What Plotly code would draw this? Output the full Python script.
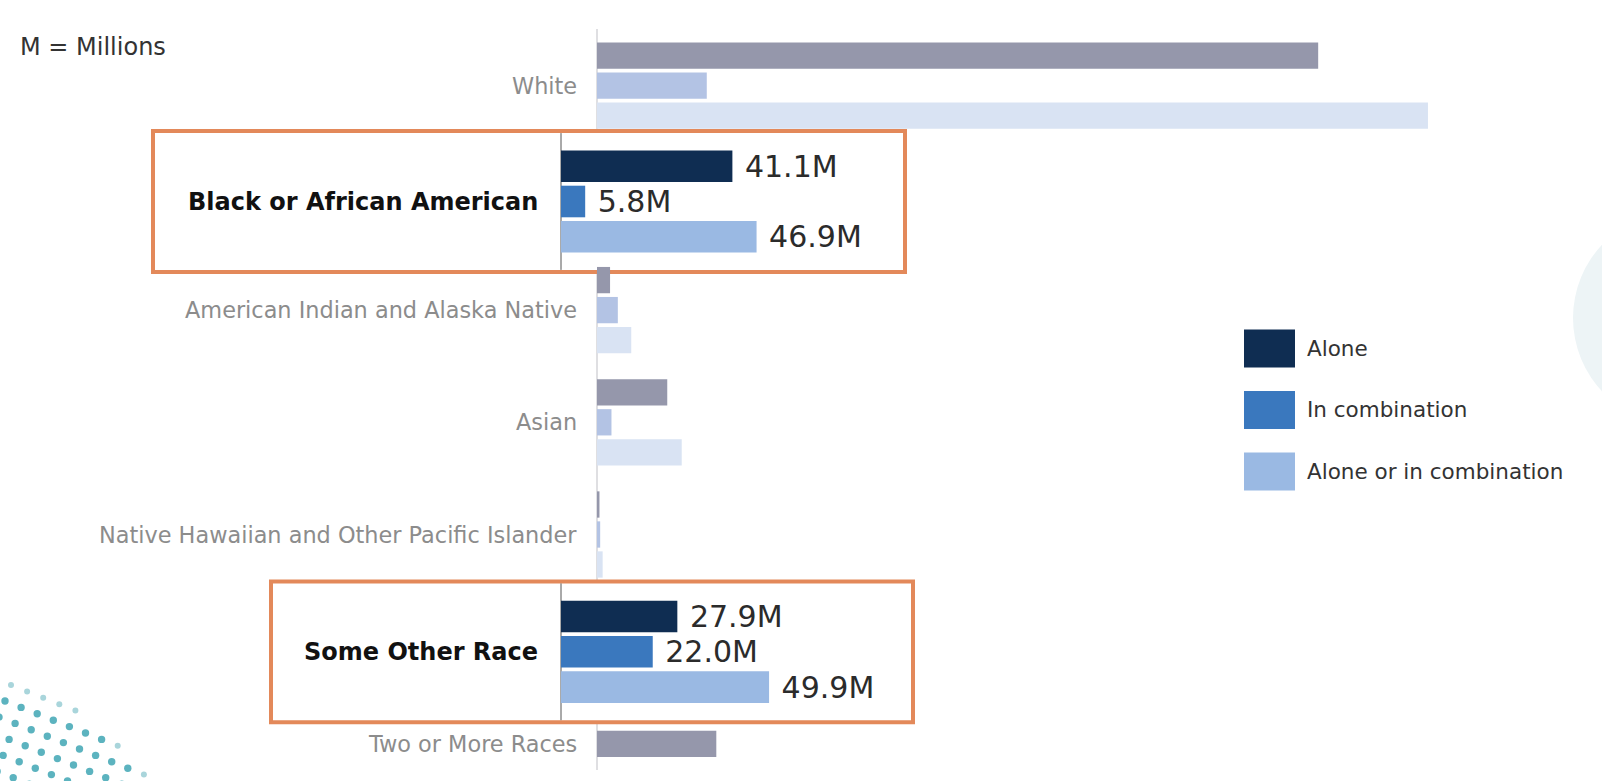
import plotly.graph_objects as go

# ---------------- data ----------------
categories = [
    "White",
    "Black or African American",
    "American Indian and Alaska Native",
    "Asian",
    "Native Hawaiian and Other Pacific Islander",
    "Some Other Race",
    "Two or More Races",
]
alone = [204.3, 41.1, 3.7, 19.9, 0.7, 27.9, 33.8]
in_combination = [31.1, 5.8, 5.9, 4.1, 0.9, 22.0, None]
alone_or_in_combination = [235.4, 46.9, 9.7, 24.0, 1.6, 49.9, None]
highlighted = ["Black or African American", "Some Other Race"]
series_names = ["Alone", "In combination", "Alone or in combination"]
unit_note = "M = Millions"

# ---------------- geometry / style ----------------
W, H = 1602, 781
FONT = "DejaVu Sans"

AXIS_X = 597          # px position of value 0 (main)
PX_PER_M = 3.53
ROW0 = 85.7           # px centre of first category
ROW_PITCH = 112.2
BAR_PITCH = 30.0
BAR_H = 26.3

C_AXIS_X = 561        # callout zero line
C_PX_PER_M = 4.17
C_ROW0 = 201.5
C_ROW_PITCH = 450.3
C_BAR_PITCH = 35.3
C_BAR_H = 31.6

main_colors = ["#9597ab", "#b3c3e4", "#d9e3f3"]
callout_colors = ["#0f2d52", "#3a78be", "#9ab9e3"]
orange = "#e3895a"


def pyv(px):
    return 1 - px / H


def pxv(px):
    return px / W


series_vals = [alone, in_combination, alone_or_in_combination]
n_vals = [sum(v[i] is not None for v in series_vals) for i in range(len(categories))]

fig = go.Figure()

# ---------------- main (faded) bars ----------------
for k in range(3):
    xs, offs = [], []
    for i, c in enumerate(categories):
        v = series_vals[k][i]
        xs.append(None if c in highlighted else v)
        if n_vals[i] == 1:
            centre = -BAR_PITCH / 2
        else:
            centre = (k - 1) * BAR_PITCH
        offs.append((centre - BAR_H / 2) / ROW_PITCH)
    fig.add_trace(go.Bar(
        y=categories, x=xs, orientation="h", name=series_names[k],
        marker=dict(color=main_colors[k], line=dict(width=0)),
        offset=offs, width=BAR_H / ROW_PITCH,
        xaxis="x", yaxis="y", hoverinfo="skip", showlegend=False,
    ))

# ---------------- callout bars ----------------
hi_idx = [categories.index(c) for c in highlighted]
for k in range(3):
    fig.add_trace(go.Bar(
        y=highlighted, x=[series_vals[k][i] for i in hi_idx], orientation="h",
        name=series_names[k],
        marker=dict(color=callout_colors[k], line=dict(width=0)),
        offset=((k - 1) * C_BAR_PITCH - C_BAR_H / 2) / C_ROW_PITCH,
        width=C_BAR_H / C_ROW_PITCH,
        texttemplate=" %{x:.1f}M", textposition="outside",
        constraintext="none", cliponaxis=False,
        textfont=dict(family=FONT, size=30, color="#2b2b2b"),
        xaxis="x2", yaxis="y2", hoverinfo="skip", showlegend=False,
    ))

shapes = []

# decorative faint circle at right edge
shapes.append(dict(type="circle", xref="paper", yref="paper",
                   x0=pxv(1573), x1=pxv(1787), y0=pyv(425), y1=pyv(211),
                   fillcolor="#edf4f6", line=dict(width=0), layer="below"))

# decorative dot pattern bottom-left
ox, oy = 5.0, 701.0
ax_, ay_ = 16.1, 6.4
bx_, by_ = -6.0, 16.0
for i in range(-6, 14):
    for j in range(-4, 8):
        x = ox + i * ax_ + j * bx_
        y = oy + i * ay_ + j * by_
        if x < -4 or y > H + 4:
            continue
        d = ((x + 40) ** 2 + (y - 900) ** 2) ** 0.5
        if d < 215:
            col, r = "#5cb3bf", 3.7
        elif d < 224:
            col, r = "#a9d5db", 3.0
        else:
            continue
        shapes.append(dict(type="circle", xref="paper", yref="paper",
                           x0=pxv(x - r), x1=pxv(x + r), y0=pyv(y + r), y1=pyv(y - r),
                           fillcolor=col, line=dict(width=0), layer="below"))

# main axis line
shapes.append(dict(type="line", xref="x", yref="paper", x0=0, x1=0,
                   y0=pyv(770), y1=pyv(29), line=dict(color="#d4d4d8", width=1.5),
                   layer="below"))

# highlight boxes
boxes = {
    "Black or African American": (153, 905),
    "Some Other Race": (271, 913),
}
BOX_HALF = 70.4
for idx, c in enumerate(highlighted):
    cy = C_ROW0 + idx * C_ROW_PITCH
    x0, x1 = boxes[c]
    shapes.append(dict(type="rect", xref="paper", yref="paper",
                       x0=pxv(x0), x1=pxv(x1), y0=pyv(cy + BOX_HALF), y1=pyv(cy - BOX_HALF),
                       fillcolor="white", line=dict(color=orange, width=4), layer="below"))
    shapes.append(dict(type="line", xref="x2", yref="paper", x0=0, x1=0,
                       y0=pyv(cy + BOX_HALF - 2), y1=pyv(cy - BOX_HALF + 2),
                       line=dict(color="#555555", width=1), layer="below"))

# legend swatches
LEG_X0, LEG_X1 = 1244, 1295
LEG_Y0, LEG_PITCH, LEG_H = 348.5, 61.5, 38
annotations = []
for k, name in enumerate(series_names):
    cy = LEG_Y0 + k * LEG_PITCH
    shapes.append(dict(type="rect", xref="paper", yref="paper",
                       x0=pxv(LEG_X0), x1=pxv(LEG_X1), y0=pyv(cy + LEG_H / 2), y1=pyv(cy - LEG_H / 2),
                       fillcolor=callout_colors[k], line=dict(width=0), layer="below"))
    annotations.append(dict(xref="paper", yref="paper", x=pxv(1305), y=pyv(cy),
                            xanchor="left", yanchor="middle", showarrow=False, text=name,
                            font=dict(family=FONT, size=21.5, color="#333333")))

# category labels (main)
for i, c in enumerate(categories):
    if c in highlighted:
        continue
    annotations.append(dict(xref="x", yref="y", x=0, y=c, xanchor="right", yanchor="middle",
                            xshift=-18, yshift=(BAR_PITCH / 2 if n_vals[i] == 1 else 0),
                            showarrow=False, text=c,
                            font=dict(family=FONT, size=22.4, color="#8c8c8c")))

# callout labels
for c in highlighted:
    annotations.append(dict(xref="x2", yref="y2", x=0, y=c, xanchor="right", yanchor="middle",
                            xshift=-21, showarrow=False, text="<b>" + c + "</b>",
                            font=dict(family=FONT, size=24, color="#111111")))

annotations.append(dict(xref="paper", yref="paper", x=pxv(18), y=pyv(47), xanchor="left",
                        yanchor="middle", showarrow=False, text=unit_note,
                        font=dict(family=FONT, size=24, color="#333333")))

fig.update_layout(
    width=W, height=H, margin=dict(l=0, r=0, t=0, b=0),
    paper_bgcolor="white", plot_bgcolor="rgba(0,0,0,0)",
    barmode="overlay", showlegend=False,
    xaxis=dict(domain=[0, 1], range=[-AXIS_X / PX_PER_M, (W - AXIS_X) / PX_PER_M], visible=False),
    yaxis=dict(domain=[0, 1], type="category", categoryorder="array", categoryarray=categories,
               range=[(H - ROW0) / ROW_PITCH, -ROW0 / ROW_PITCH], visible=False),
    xaxis2=dict(domain=[0, 1], anchor="y2", range=[-C_AXIS_X / C_PX_PER_M, (W - C_AXIS_X) / C_PX_PER_M],
                visible=False),
    yaxis2=dict(domain=[0, 1], anchor="x2", type="category", categoryorder="array",
                categoryarray=highlighted,
                range=[(H - C_ROW0) / C_ROW_PITCH, -C_ROW0 / C_ROW_PITCH], visible=False),
    shapes=shapes, annotations=annotations,
)

fig.write_html("out.html")
